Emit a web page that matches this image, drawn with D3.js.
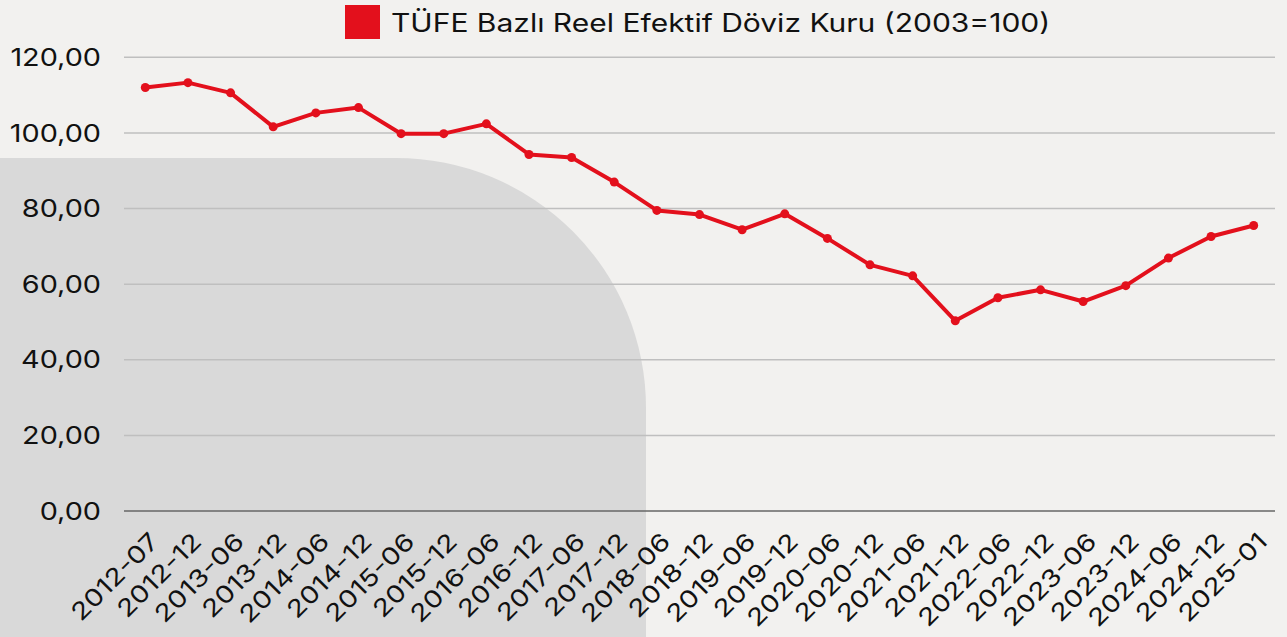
<!DOCTYPE html>
<html>
<head>
<meta charset="utf-8">
<script src="https://cdn.jsdelivr.net/npm/d3@7"></script>
<style>
  body { margin: 0; background: #f2f1ef; }
  svg { display: block; font-family: "Inter", "Noto Sans", sans-serif; }
</style>
</head>
<body>
<svg width="1287" height="637"></svg>
<script>
// data
var periods = ["2012-07","2012-12","2013-06","2013-12","2014-06","2014-12","2015-06","2015-12",
  "2016-06","2016-12","2017-06","2017-12","2018-06","2018-12","2019-06","2019-12","2020-06",
  "2020-12","2021-06","2021-12","2022-06","2022-12","2023-06","2023-12","2024-06","2024-12","2025-01"];
var reer = [112.0, 113.3, 110.6, 101.6, 105.3, 106.7, 99.8, 99.8, 102.4, 94.3, 93.5, 87.0,
  79.5, 78.4, 74.4, 78.6, 72.1, 65.1, 62.2, 50.3, 56.4, 58.5, 55.4, 59.6, 66.9, 72.6, 75.5];
var yTicks = [0, 20, 40, 60, 80, 100, 120];
var seriesName = "TÜFE Bazlı Reel Efektif Döviz Kuru (2003=100)";

var svg = d3.select("svg"),
    width = +svg.attr("width"),
    height = +svg.attr("height");

var red = "#e3101c";
var stretch = 1.2; // the original font is wider than Inter

// background
svg.append("rect").attr("width", width).attr("height", height).attr("fill", "#f2f1ef");
// decorative rounded block lower left
svg.append("path")
    .attr("fill", "#d9d9d9")
    .attr("d", "M0,158 H396 A250,250 0 0 1 646,408 V637 H0 Z");

var x = d3.scaleBand()
    .domain(periods)
    .range([124, 1275]);

var y = d3.scaleLinear()
    .domain([0, 120])
    .range([511, 57.3]);

var fmt = function (d) { return d.toFixed(2).replace(".", ","); };
var cx = function (d, i) { return x(periods[i]) + x.bandwidth() / 2; };

// gridlines
svg.append("g")
    .selectAll("line")
    .data(yTicks.filter(function (d) { return d > 0; }))
    .enter().append("line")
      .attr("x1", 124).attr("x2", 1275)
      .attr("y1", function (d) { return y(d); })
      .attr("y2", function (d) { return y(d); })
      .attr("stroke", "#bfbfbf")
      .attr("stroke-width", 1.5);

// y labels
svg.append("g")
    .selectAll("text")
    .data(yTicks)
    .enter().append("text")
      .attr("transform", function (d) { return "translate(101," + y(d) + ") scale(" + stretch + ",1)"; })
      .attr("dy", "0.36em")
      .attr("text-anchor", "end")
      .attr("font-size", 24)
      .attr("fill", "#111")
      .text(fmt);

// baseline
svg.append("line")
    .attr("x1", 124).attr("x2", 1275)
    .attr("y1", y(0)).attr("y2", y(0))
    .attr("stroke", "#666")
    .attr("stroke-width", 1.5);

// x labels
svg.append("g")
    .selectAll("text")
    .data(periods)
    .enter().append("text")
      .attr("transform", function (d) {
        return "translate(" + (x(d) + x.bandwidth() / 2 + 15) + ",543) rotate(-45) scale(" + stretch + ",1)";
      })
      .attr("text-anchor", "end")
      .attr("font-size", 24)
      .attr("fill", "#111")
      .text(function (d) { return d; });

// line
var line = d3.line()
    .x(cx)
    .y(function (d) { return y(d); });

svg.append("path")
    .datum(reer)
    .attr("fill", "none")
    .attr("stroke", red)
    .attr("stroke-width", 4)
    .attr("stroke-linejoin", "round")
    .attr("d", line);

svg.append("g")
    .selectAll("circle")
    .data(reer)
    .enter().append("circle")
      .attr("cx", cx)
      .attr("cy", function (d) { return y(d); })
      .attr("r", 4.5)
      .attr("fill", red);

// legend
var lg = svg.append("g");
lg.append("rect")
    .attr("x", 345).attr("y", 5)
    .attr("width", 35).attr("height", 34)
    .attr("fill", red);
lg.append("text")
    .attr("transform", "translate(391,32) scale(" + stretch + ",1)")
    .attr("font-size", 25)
    .attr("fill", "#111")
    .text(seriesName);
</script>
</body>
</html>
